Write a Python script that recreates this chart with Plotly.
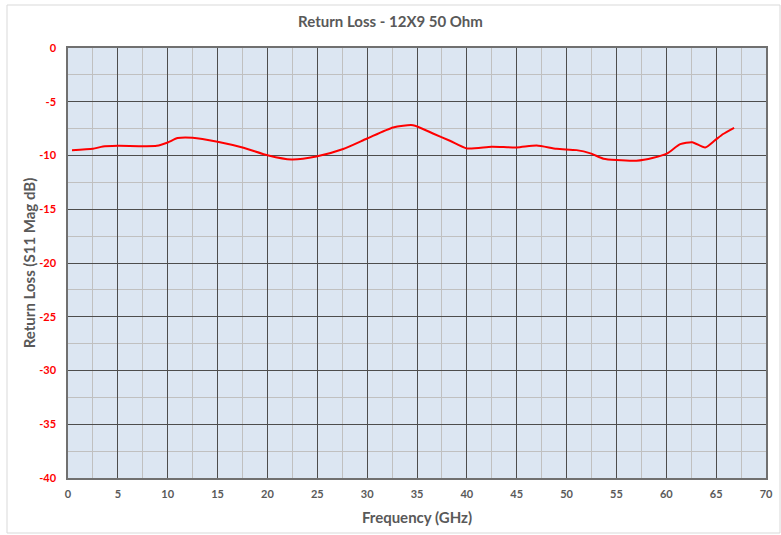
import plotly.graph_objects as go

freq_ghz = [0.4, 2.5, 3.5, 5.0, 8.9, 10.0, 11.0, 12.5, 15.0, 17.6, 20.1, 22.4, 24.9,
            27.6, 30.0, 32.6, 34.6, 36.6, 38.3, 40.0, 42.5, 45.0, 47.0, 49.0, 51.0,
            52.4, 53.7, 55.0, 57.0, 58.7, 60.1, 61.4, 62.6, 63.9, 64.9, 65.7, 66.8]
s11_db = [-9.5, -9.38, -9.16, -9.1, -9.1, -8.79, -8.38, -8.35, -8.72, -9.28, -10.0,
          -10.37, -10.1, -9.4, -8.42, -7.39, -7.18, -7.95, -8.63, -9.34, -9.19, -9.25,
          -9.07, -9.38, -9.5, -9.8, -10.3, -10.43, -10.49, -10.21, -9.8, -8.94, -8.76,
          -9.25, -8.57, -8.0, -7.42]
x_ticks = list(range(0, 71, 5))
y_ticks = list(range(-40, 1, 5))

FONT = "Lato"
GRAY = "#595959"

fig = go.Figure()
fig.add_trace(go.Scatter(x=freq_ghz, y=s11_db, mode="lines",
                         line=dict(color="#ff0000", width=2, shape="spline", smoothing=0.6),
                         showlegend=False, hoverinfo="x+y"))

fig.update_layout(
    width=781, height=535,
    margin=dict(l=68, r=15, t=48, b=57, autoexpand=False),
    paper_bgcolor="white", plot_bgcolor="#dce6f2",
    title=dict(text="<b>Return Loss - 12X9 50 Ohm</b>", x=0.5, xanchor="center",
               y=1 - 22 / 535, yanchor="middle",
               font=dict(family=FONT, size=15, color=GRAY)),
    font=dict(family=FONT),
)
fig.update_xaxes(range=[0, 70], tickvals=x_ticks, ticktext=[f"<b>{v}</b>" for v in x_ticks],
                 automargin=False, ticklabelstandoff=5,
                 showgrid=True, gridcolor="#4d4d4d", gridwidth=1,
                 minor=dict(dtick=2.5, showgrid=True, gridcolor="#c0c0c0", gridwidth=1),
                 showline=True, linecolor="#707070", linewidth=1.5, mirror=True,
                 zeroline=False, ticks="",
                 tickfont=dict(family=FONT, size=11, color=GRAY),
                 title=dict(text="<b>Frequency (GHz)</b>", standoff=14,
                            font=dict(family=FONT, size=15, color=GRAY)))
fig.update_yaxes(range=[-40, 0], tickvals=y_ticks, ticktext=[f"<b>{v}</b>" for v in y_ticks],
                 automargin=False, ticklabelstandoff=8,
                 showgrid=True, gridcolor="#4d4d4d", gridwidth=1,
                 minor=dict(dtick=2.5, showgrid=True, gridcolor="#c0c0c0", gridwidth=1),
                 showline=True, linecolor="#707070", linewidth=1.5, mirror=True,
                 zeroline=False, ticks="",
                 tickfont=dict(family=FONT, size=11, color="#ff0000"),
                 title=dict(text="<b>Return Loss (S11 Mag dB)</b>", standoff=0,
                            font=dict(family=FONT, size=15, color=GRAY)))

# outer chart frame
pw, ph = 781 - 68 - 15, 535 - 48 - 57
fig.add_shape(type="rect", xref="paper", yref="paper",
              x0=(7 - 68) / pw, x1=(780 - 68) / pw,
              y0=(535 - 57 - 533) / ph, y1=(535 - 57 - 5) / ph,
              line=dict(color="#d9d9d9", width=1), layer="below")

fig.write_html("out.html", config={"displayModeBar": False},
               post_script="document.body.style.margin='0';")
